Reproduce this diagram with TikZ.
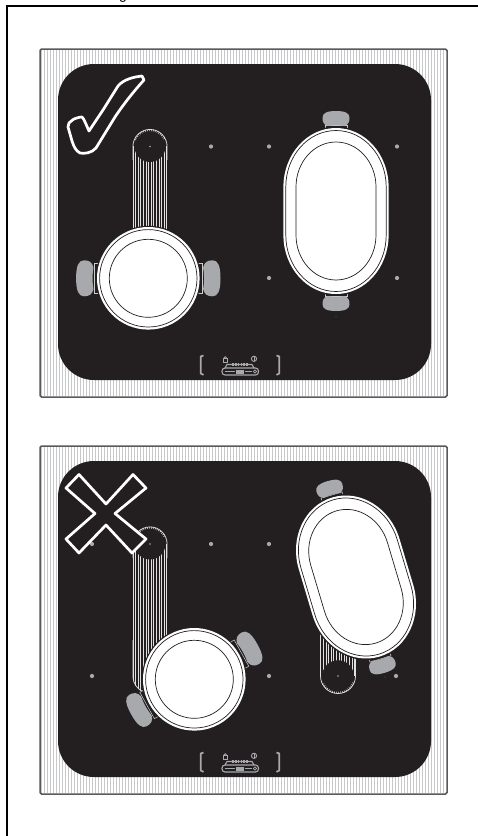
\documentclass[tikz,border=0pt]{standalone}
\usepackage{fontspec}
\setmainfont{Liberation Sans}
\definecolor{hobk}{HTML}{231F20}
\definecolor{hgrey}{HTML}{A7A9AC}
\definecolor{stripeg}{HTML}{C6C8CA}
\definecolor{edgeg}{HTML}{58595B}
\tikzset{
  x=1pt,y=-1pt,
  dotmark/.style={fill=hgrey,draw=none},
  ringline/.style={draw=hobk,line width=.7pt},
  signline/.style={draw=white,fill=hobk,line width=2.7pt,line join=round},
  ctrlline/.style={draw=hgrey,line width=1.1pt},
  zoneline/.style={draw=white!88!black,line width=.75pt},
  neck/.style={draw=white!80!black,fill=hobk,line width=.5pt}
}
% unit handle, pointing outwards along +x
\newcommand\hobhandle{%
  \fill[hgrey] (-1,-.6) .. controls (-.85,-.9) and (-.5,-1) .. (.1,-1)
    .. controls (.7,-1) and (1,-.7) .. (1,0)
    .. controls (1,.7) and (.7,1) .. (.1,1)
    .. controls (-.5,1) and (-.85,.9) .. (-1,.6)
    .. controls (-.85,.2) and (-.85,-.2) .. (-1,-.6) -- cycle;}
\newcommand\roundpan{%
  \foreach \ang/\sgn in {0/1,180/1}{
    \begin{scope}[rotate=\ang]
      \draw[neck] (50,-15) rectangle (54,15);
      \begin{scope}[shift={(63.5,0)},xscale=8.7,yscale=18]\hobhandle\end{scope}
    \end{scope}}
  \fill[hobk] circle[radius=52.5];
  \fill[white] circle[radius=51.3];
  \draw[ringline] circle[radius=48.7];
  \draw[ringline] circle[radius=39];}
\newcommand\ovalring[3]{(-#1,-#2) arc[start angle=180,end angle=360,x radius=#1,y radius=#3] -- (#1,#2) arc[start angle=0,end angle=180,x radius=#1,y radius=#3] -- cycle}
\newcommand\ovalpan{%
  \foreach \ang in {90,270}{
    \begin{scope}[rotate=\ang]
      \draw[neck] (82,-11) rectangle (85.5,11);
      \begin{scope}[shift={(92.5,0)},xscale=7.5,yscale=13.5]\hobhandle\end{scope}
    \end{scope}}
  \fill[hobk] \ovalring{54}{24}{60.5};
  \fill[white] \ovalring{52.6}{24}{59};
  \draw[ringline] \ovalring{50.2}{24}{56.5};
  \draw[ringline] \ovalring{40}{24}{45};}
\newcommand\hobdots[1]{\foreach \px/\py in {#1}{\fill[dotmark] (\px,\py) circle[radius=2.1];}}
\newcommand\hobbase{%
  \fill[white] (40,49) rectangle (447,397);
  \foreach \sx in {41.5,44.5,...,446}{\draw[stripeg,line width=1.4pt] (\sx,50) -- (\sx,396);}
  \draw[edgeg,line width=1.5pt,rounded corners=1.5pt] (40,49) rectangle (447,397);
  \fill[hobk,rounded corners=36pt] (58,64) rectangle (431,380);
  % control strip
  \draw[ctrlline,line width=1.7pt] (203.5,355.5) -- (200.7,356.5) -- (200.7,373.5) -- (203.5,374.8);
  \draw[ctrlline,line width=1.7pt] (276.5,355.5) -- (279.3,356.5) -- (279.3,373.5) -- (276.5,374.8);
  \draw[ctrlline,rounded corners=3pt] (222,368) rectangle (258.5,375);
  \draw[ctrlline] (225,368) -- (227,364.5) -- (252,364.5) -- (254,368);
  \foreach \tx in {233,235.8,...,247.5}{\fill[hgrey] (\tx-.8,363) rectangle (\tx+.8,366);}
  \draw[ctrlline] (224.5,371.5) -- (235,371.5) (245,371.5) -- (252,371.5);
  \fill[hgrey] (236,370) rectangle (243.5,373.5);
  \draw[ctrlline,line width=.8pt] (255,371.5) circle[radius=1.6];
  \draw[ctrlline,line width=.9pt] (223.3,358) rectangle (227.3,362);
  \draw[ctrlline,line width=.8pt] (224,358) arc[start angle=180,end angle=360,radius=1.3];
  \draw[ctrlline,line width=.9pt] (254,358.8) circle[radius=2.6];
  \fill[hgrey] (253.5,357) rectangle (254.5,360.5);}
\newcommand\centredot[2]{\fill[hgrey] (#1,#2) circle[radius=.9];}
\begin{document}
\begin{tikzpicture}
\useasboundingbox (0,0) rectangle (478,836);
\fill[white] (0,0) rectangle (478,836);
\node[anchor=base,font=\fontsize{14}{14}\selectfont,inner sep=0pt] (cutoffg) at (123,-.5) {g};
\draw[black,line width=2pt] (478,6) -- (7,6) -- (7,836);
% ---------- upper hob ----------
\hobbase
\hobdots{211/146.5,269/146.5,397/146.5,269/278,397/278}
\begin{scope}
  \clip (132.7,146.5) arc[start angle=180,end angle=360,radius=17.3] -- (167.3,285) -- (132.7,285) -- cycle;
  \foreach \sx in {133,135.6,...,168}{\draw[zoneline] (\sx,146) -- (\sx,285);}
\end{scope}
\fill[hobk] (150,146.5) circle[radius=15.5];
\draw[zoneline] (132.9,160) -- (132.9,146.5) arc[start angle=180,end angle=360,radius=17.1] -- (167.1,160);
\foreach \ta in {205,212,...,335}{\draw[zoneline,line width=.5pt] (150,146.5) ++(\ta:15.3) -- ++(\ta:1.8);}
\centredot{150}{146.5}
\begin{scope}[shift={(148.3,278.3)}]\roundpan\end{scope}
\begin{scope}[shift={(336,211)}]\ovalpan\end{scope}
\fill[hgrey] (336,317) circle[radius=.4];
% check mark
\draw[signline] plot[smooth,tension=.35] coordinates {(69,123) (74,119) (82,117) (85,122) (89,131)} -- (103,110) -- (118,86)
  .. controls (124,79) and (134,77) .. (142,76) -- (144,80)
  .. controls (135,90) and (125,102) .. (115,117) -- (96,148)
  .. controls (92,153) and (84,154) .. (80,153) .. controls (76,151) and (74,147) .. (72,141) -- (68,127) -- cycle;
% ---------- lower hob ----------
\begin{scope}[shift={(0,397)}]
  \hobbase
  \hobdots{92/147,211/147,269/147,92/279,269/279,396/279}
\end{scope}
\begin{scope}
  \clip (132.7,544) arc[start angle=180,end angle=360,radius=17.3] -- (167.3,676) arc[start angle=0,end angle=180,radius=17.3] -- cycle;
  \foreach \sx in {133,135.6,...,168}{\draw[zoneline] (\sx,544) -- (\sx,694);}
\end{scope}
\fill[hobk] (150,544) circle[radius=15.5];
\draw[zoneline] (132.9,558) -- (132.9,544) arc[start angle=180,end angle=360,radius=17.1] -- (167.1,558);
\foreach \ta in {205,212,...,335}{\draw[zoneline,line width=.5pt] (150,544) ++(\ta:15.3) -- ++(\ta:1.8);}
\centredot{150}{544}
\draw[zoneline] (132.9,640) -- (132.9,676) arc[start angle=180,end angle=90,radius=17.1];
\begin{scope}
  \clip (320.3,630) -- (355.7,630) -- (355.7,676) arc[start angle=0,end angle=180,radius=17.7] -- cycle;
  \foreach \sx in {320.8,323.4,...,356}{\draw[zoneline] (\sx,630) -- (\sx,676);}
\end{scope}
\fill[hobk] (338,676) circle[radius=15.8];
\draw[zoneline] (320.5,630) -- (320.5,676) arc[start angle=180,end angle=0,radius=17.5] -- (355.5,630);
\foreach \ta in {25,32,...,155}{\draw[zoneline,line width=.5pt] (338,676) ++(\ta:15.7) -- ++(\ta:1.8);}
\centredot{338}{676}
\fill[hgrey] (385,677) circle[radius=.4];
\begin{scope}[shift={(194.3,679.3)},rotate=29]\roundpan\end{scope}
\begin{scope}[shift={(356,577)},rotate=16.6]\ovalpan\end{scope}
% cross
\draw[signline,miter limit=4] (79,474.5) -- (106,504) -- (133,474.5) -- (146,488) -- (115,513.5) -- (146,539) -- (132,553) -- (106,525) -- (79,553) -- (66,539) -- (95,513.5) -- (66,488) -- cycle;
\end{tikzpicture}
\end{document}
